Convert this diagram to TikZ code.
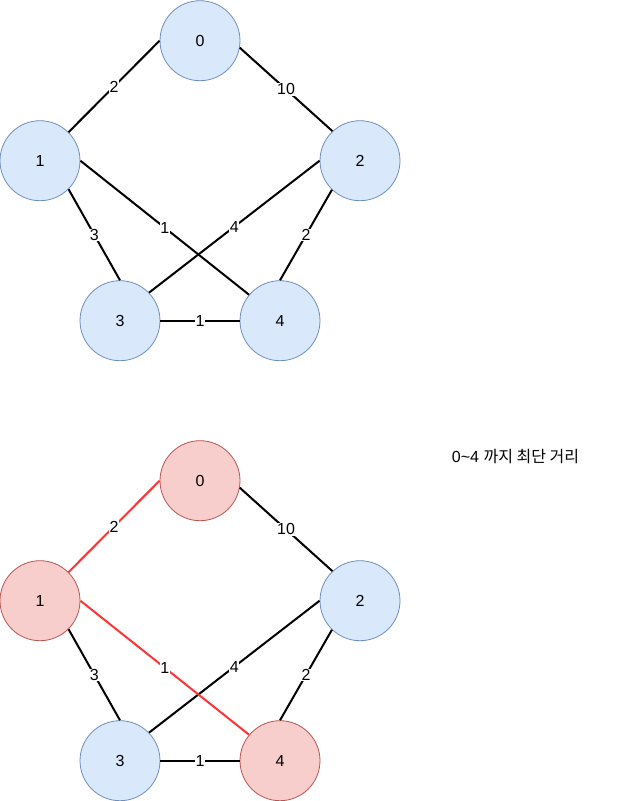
\documentclass[tikz,border=0pt]{standalone}
\usepackage{fontspec}
\setmainfont{Liberation Sans}
\newfontfamily\krfont{Noto Sans CJK KR}
\definecolor{bfill}{HTML}{DAE8FC}
\definecolor{bdraw}{HTML}{6C8EBF}
\definecolor{rfill}{HTML}{F8CECC}
\definecolor{rdraw}{HTML}{B85450}
\definecolor{redge}{HTML}{FF3333}
\begin{document}
\begin{tikzpicture}[x=1pt,y=-1pt,
  txt/.style={font=\fontsize{16pt}{19pt}\selectfont},
  vtx/.style={circle,minimum size=80pt,inner sep=0pt,line width=0.8pt,txt},
  bvtx/.style={vtx,fill=bfill,draw=bdraw},
  rvtx/.style={vtx,fill=rfill,draw=rdraw},
  edge/.style={line width=2pt,draw=black},
  redg/.style={line width=2pt,draw=redge},
  wlab/.style={fill=white,inner sep=0.5pt,txt,midway}]
\useasboundingbox (0,0) rectangle (621,801);
% top graph
\node[bvtx] (a0) at (200,40.7) {0};
\node[bvtx] (a1) at (40,160.7) {1};
\node[bvtx] (a2) at (360,160.7) {2};
\node[bvtx] (a3) at (120,320.7) {3};
\node[bvtx] (a4) at (280,320.7) {4};
\draw[edge] (a1.45) -- (a0.180) node[wlab] {2};
\draw[edge] (a0.-10.5) -- (a2.133) node[wlab] {10};
\draw[edge] (a1.0) -- (a4.140) node[wlab] {1};
\draw[edge] (a1.-45) -- (a3.90) node[wlab] {3};
\draw[edge] (a2.180) -- (a3.44) node[wlab] {4};
\draw[edge] (a2.226) -- (a4.90) node[wlab] {2};
\draw[edge] (a3.0) -- (a4.180) node[wlab] {1};
% bottom graph
\node[rvtx] (b0) at (200,480.7) {0};
\node[rvtx] (b1) at (40,600.7) {1};
\node[bvtx] (b2) at (360,600.7) {2};
\node[bvtx] (b3) at (120,760.7) {3};
\node[rvtx] (b4) at (280,760.7) {4};
\draw[edge] (b0.-10.5) -- (b2.133) node[wlab] {10};
\draw[edge] (b1.-45) -- (b3.90) node[wlab] {3};
\draw[edge] (b2.180) -- (b3.44) node[wlab] {4};
\draw[edge] (b2.226) -- (b4.90) node[wlab] {2};
\draw[edge] (b3.0) -- (b4.180) node[wlab] {1};
\draw[redg] (b1.45) -- (b0.180) node[wlab] {2};
\draw[redg] (b1.0) -- (b4.140) node[wlab] {1};
% caption
\node[txt] (cap) at (515.5,457) {0\char`\~4 {\krfont 까지 최단 거리}};
\end{tikzpicture}
\end{document}
